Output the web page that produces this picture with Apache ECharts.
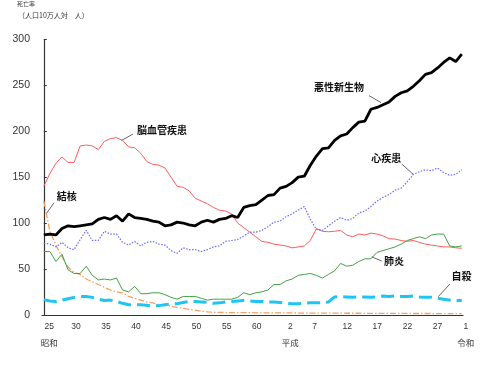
<!DOCTYPE html>
<html><head><meta charset="utf-8">
<script src="https://cdn.jsdelivr.net/npm/echarts@6/dist/echarts.min.js"></script>
<style>html,body{margin:0;padding:0;background:#fff}#c{width:480px;height:372px}</style>
</head><body><div id="c"></div>
<script>
// ---- data ----
const years = [1950,1951,1952,1953,1954,1955,1956,1957,1958,1959,1960,1961,1962,1963,1964,1965,1966,1967,1968,1969,
1970,1971,1972,1973,1974,1975,1976,1977,1978,1979,1980,1981,1982,1983,1984,1985,1986,1987,1988,1989,
1990,1991,1992,1993,1994,1995,1996,1997,1998,1999,2000,2001,2002,2003,2004,2005,2006,2007,2008,2009,
2010,2011,2012,2013,2014,2015,2016,2017,2018,2019];
const cancer = [87,88,87,94,97,96,97,98,99,104, 106,104,108,102,110,106,105,104,102,101,
 97,98,101,100,98,97,101,103,101,104, 105,108,106,117,119,120,125,130,131,138,
 140,144,150,151,163,173,181,182,190,195, 197,204,210,211,224,226,229,232,238,242,
 244,249,255,262,264,269,275,280,276,284];
const stroke = [140,154,165,172,166,166,184,185,184,180, 189,192,193,190,183,182,176,167,164,163,
 160,150,140,139,135,127,124,121,117,114, 113,110,100,95,90,85,80,79,77,76,
 75,73,74,75,81,94,91,90.5,91,92, 87,85,88,87,89,88,86,83,82.5,81,
 80,81,79,77,76,75,74,74,73,72.5];
const heart = [78,77,74,79,73,71,82,92,81,81, 91,88,88,79,76,80,75,79,80,77,
 76,70,67,73,71,71,69,71,74,75, 80,81,82,86,90,90,92,96,101,102,
 107,110,114,118,104,93,92,97,102,106, 103,105,111,113,118,124,128,131,136,138,
 145,153,156,158,157,160,155,152,153,158];
const pneumonia = [69,69,58,66,49,45,45,53,43,38, 39,38,40,27,25,31,23,23,24,24,
 22,19,17,20,20,20,18,16,17,17, 17,17,19,24,22,24,25,27,33,33,
 37,39,43,44,45,43,40,44,48,56, 53,54,58,61,61,68,70,72,74,77,
 81,83,85,83,87,88,88,75,74,75];
const tuberculosis = [124,91,76,63,52,46,44,39,36,33, 30,27,25,24,20,18,16,14,13,11,
 10.5,9.5,8,7,6,5,4,3.2,2.8,2.6, 2.5,2.4,2.4,2.3,2.3,2.2,2.2,2.1,2.1,2.0,
 2.0,2.0,1.9,1.9,1.9,1.9,1.8,1.8,1.8,1.8, 1.7,1.7,1.7,1.6,1.6,1.6,1.6,1.5,1.5,1.5,
 1.5,1.4,1.4,1.4,1.4,1.3,1.3,1.3,1.3,1.2];
const suicide = [16.5,15,14.5,16,17.5,19,20,20,19,17, 15.5,16,14.5,12.5,11,11,11,10.5,9.5,10,
 11,12,12,13.5,14.5,14.5,14,13.5,12.5,13, 14,14.5,15,15.5,15,14.5,14.5,14,14,13.5,
 12.5,12,12,12.5,13,13,13,14,19.5,20, 19.5,19,19.5,19.5,19,19.5,20.5,20,20.5,20,
 20,20.5,19.5,19,19,18,17,16,15.5,15.5];
const seriesNames = ['悪性新生物','脳血管疾患','心疾患','肺炎','結核','自殺'];
const xTickYears = [1950,1955,1960,1965,1970,1975,1980,1985,1990,1995,2000,2005,2010,2015,2019];
const xTickLabels = ['25','30','35','40','45','50','55','60','2','7','12','17','22','27','1'];
const eraLabels = {1950:'昭和',1990:'平成',2019:'令和'};
const yTicks = [0,50,100,150,200,250,300];
const yTitle1 = '死亡率';
const yTitle2 = '（人口10万人対　人）';

// ---- layout / style ----
const labelShift = {1950:0.9,1955:0.3,1960:0.25,1965:0.2,1970:0.2,1975:0.2,1980:0.2,1985:0.15,1990:0.7,1995:-0.3,2000:0.1,2005:0.05,2010:0.05,2015:0,2019:0};
const tickPos = xTickYears.map(y => years.indexOf(y) + labelShift[y]);
const valueAt = {};
tickPos.forEach((p,k)=>{ valueAt[p.toFixed(3)] = k; });

const chart = echarts.init(document.getElementById('c'), null, {renderer:'canvas'});
const pairs = arr => arr.map((v,i)=>[i,v]);
const jp = '"Noto Sans CJK JP", sans-serif';
const num = '"Liberation Sans", Arial, sans-serif';

const seriesStyles = [
  {data:cancer, color:'#000000', width:2.8, type:'solid', z:6},
  {data:stroke, color:'#FF5C5C', width:1, type:'solid', z:3},
  {data:heart, color:'#6A6AFF', width:1.2, type:[1.5,1.5], z:3},
  {data:pneumonia, color:'#45A045', width:1, type:'solid', z:3},
  {data:tuberculosis, color:'#F4A060', width:1.3, type:[6,2,1.5,2], z:2},
  {data:suicide, color:'#1EC4F2', width:3, type:[13,6], z:4}
];

chart.setOption({
  animation:false,
  backgroundColor:'#fff',
  grid:{left:42, right:17, top:39.5, bottom:57.2, containLabel:false},
  xAxis:{
    type:'value', min:-0.3, max:69.2,
    axisLine:{show:true, onZero:false, lineStyle:{color:'#333', width:1.2}},
    axisTick:{show:false},
    splitLine:{show:false},
    axisLabel:{
      customValues: tickPos,
      margin:4,
      color:'#333',
      fontSize:8.5,
      fontFamily:num,
      lineHeight:16,
      showMinLabel:true, showMaxLabel:true,
      formatter:function(v){
        const k = valueAt[Number(v).toFixed(3)];
        if (k === undefined) return '';
        const yr = xTickYears[k];
        const era = eraLabels[yr];
        if (yr === 2019) return '{e|' + xTickLabels[k] + '}\n{ej|' + era + '}';
        return era ? xTickLabels[k] + '\n{j|' + era + '}' : xTickLabels[k];
      },
      rich:{
        j:{fontFamily:jp, fontSize:8.5, color:'#333', lineHeight:16},
        e:{fontFamily:num, fontSize:8.5, color:'#333', lineHeight:16, padding:[0,0,0,8]},
        ej:{fontFamily:jp, fontSize:8.5, color:'#333', lineHeight:16, padding:[0,0,0,8]}
      }
    }
  },
  yAxis:{
    type:'value', min:yTicks[0], max:yTicks[yTicks.length-1], interval:50,
    axisLine:{show:true, lineStyle:{color:'#333', width:1.2}},
    axisTick:{show:true, inside:true, length:3, lineStyle:{color:'#333'}},
    splitLine:{show:false},
    axisLabel:{color:'#333', fontSize:10.5, fontFamily:num, margin:12}
  },
  series: seriesStyles.map((s,k)=>({
    type:'line', name:seriesNames[k], data:pairs(s.data), showSymbol:false, symbol:'none',
    z:s.z, lineStyle:{color:s.color, width:s.width, type:s.type}, silent:true
  })),
  graphic:[
    {type:'text', left:17, top:1, style:{text:yTitle1, font:'6px '+jp, fill:'#333'}},
    {type:'text', left:18, top:12, style:{text:yTitle2, font:'7px '+jp, fill:'#333'}}
  ]
});

// annotations anchored on the data lines
const notes = [
  {k:0, i:56, s:[-2,-2], e:[-14,-9], t:[-44,-17.6], align:'center'},
  {k:2, i:61, s:[0,0], e:[-11.6,-10.4], t:[-27,-16.4], align:'center'},
  {k:1, i:13, s:[-1,0], e:[10.4,-6.4], t:[14.4,-10.4], align:'left'},
  {k:4, i:0, s:[3,12], e:[10.2,1.7], t:[13,-5.3], align:'left'},
  {k:3, i:54, s:[0.8,-2], e:[10.8,2.2], t:[13,2.2], align:'left'},
  {k:5, i:65, s:[0.7,-1.6], e:[12.4,-14.3], t:[14,-22.3], align:'left'}
];
const g = [
  {type:'text', left:17, top:1, style:{text:yTitle1, font:'6px '+jp, fill:'#333'}},
  {type:'text', left:18, top:12, style:{text:yTitle2, font:'7px '+jp, fill:'#333'}}
];
notes.forEach(n=>{
  const d = seriesStyles[n.k].data;
  const p = chart.convertToPixel({gridIndex:0}, [n.i, d[n.i]]);
  g.push({type:'line', z:20, shape:{x1:p[0]+n.s[0], y1:p[1]+n.s[1], x2:p[0]+n.e[0], y2:p[1]+n.e[1]},
          style:{stroke:'#555', lineWidth:0.9}});
  g.push({type:'text', z:21, x:p[0]+n.t[0], y:p[1]+n.t[1],
          style:{text:seriesNames[n.k], font:'bold 10px '+jp, fill:'#111', align:n.align, verticalAlign:'middle'}});
});
chart.setOption({graphic:g}, {replaceMerge:['graphic']});
</script></body></html>
